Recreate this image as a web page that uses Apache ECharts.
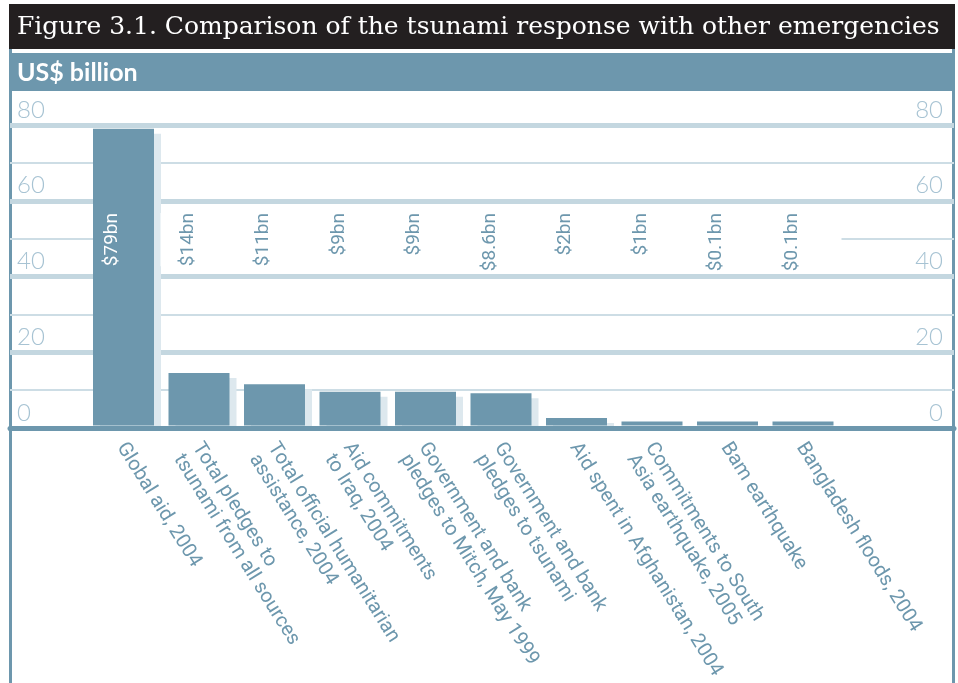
<!DOCTYPE html>
<html>
<head>
<meta charset="utf-8">
<title>Figure 3.1</title>
<script src="https://cdn.jsdelivr.net/npm/echarts@6/dist/echarts.min.js"></script>
<style>
html, body { margin: 0; padding: 0; background: #fff; }
#chart { width: 958px; height: 683px; }
</style>
</head>
<body>
<div id="chart"></div>
<script>
// data
var categories = [
  'Global aid, 2004',
  'Total pledges to\ntsunami from all sources',
  'Total official humanitarian\nassistance, 2004',
  'Aid commitments\nto Iraq, 2004',
  'Government and bank\npledges to Mitch, May 1999',
  'Government and bank\npledges to tsunami',
  'Aid spent in Afghanistan, 2004',
  'Commitments to South\nAsia earthquake, 2005',
  'Bam earthquake',
  'Bangladesh floods, 2004'
];
var values = [79, 14, 11, 9, 9, 8.6, 2, 1, 0.1, 0.1];
var yMin = 0, yMax = 80, yStep = 20;

var blue = '#6d97ad';
var narrow = "Roboto, 'Liberation Sans', sans-serif";

var chart = echarts.init(document.getElementById('chart'));
var option = {
  animation: false,
  backgroundColor: '#fff',
  title: [
    {
      text: 'Figure 3.1. Comparison of the tsunami response with other emergencies',
      left: 17, top: 15, padding: 0,
      textStyle: { fontFamily: 'DejaVu Serif', fontSize: 25, fontWeight: 'normal', color: '#fff' }
    },
    {
      text: 'US$ billion',
      left: 17, top: 60, padding: 0,
      textStyle: { fontFamily: 'Lato', fontSize: 25, fontWeight: 'bold', color: '#fff' }
    }
  ],
  graphic: [
    { type: 'rect', shape: { x: 9, y: 4, width: 946, height: 45 }, style: { fill: '#231f20' } },
    { type: 'rect', shape: { x: 9, y: 53, width: 945, height: 38 }, style: { fill: blue } },
    { type: 'rect', shape: { x: 9, y: 49, width: 3, height: 634 }, style: { fill: blue } },
    { type: 'rect', shape: { x: 952, y: 49, width: 3, height: 634 }, style: { fill: blue } }
  ],
  grid: [
    { left: 10, right: 4, top: 125, bottom: 255, outerBoundsMode: 'none' },
    { left: 85.75, right: 117.25, top: 125, bottom: 257.5, outerBoundsMode: 'none' }
  ],
  xAxis: [
    {
      gridIndex: 0, type: 'value', min: 0, max: 1, z: 5,
      axisLine: { show: true, lineStyle: { color: blue, width: 5 } },
      axisTick: { show: false }, axisLabel: { show: false }, splitLine: { show: false }
    },
    {
      gridIndex: 1, type: 'category', data: categories, position: 'bottom',
      axisLine: { show: false }, axisTick: { show: false },
      axisLabel: {
        interval: 0, rotate: -58, margin: 2, align: 'left', verticalAlign: 'top',
        padding: [0, 0, 0, 13],
        color: blue, fontFamily: narrow, fontSize: 20, lineHeight: 22
      }
    },
    {
      // value labels, masking the 50 gridline behind them
      gridIndex: 1, type: 'category', data: categories, position: 'top', z: 4,
      axisLine: { show: false }, axisTick: { show: false },
      axisLabel: {
        inside: true, interval: 0, rotate: -90, margin: 88,
        align: 'right', verticalAlign: 'middle',
        formatter: function (v, i) {
          return '{' + (i === 0 ? 'w' : 'b') + '|$' + values[i] + 'bn}';
        },
        rich: {
          w: { color: '#fff', fontFamily: narrow, fontSize: 19, lineHeight: 21, padding: [18, 0, 40, 0] },
          b: { color: blue, fontFamily: narrow, fontSize: 19, lineHeight: 21, padding: [18, 0, 40, 0], backgroundColor: '#fff' }
        }
      }
    }
  ],
  yAxis: [
    {
      gridIndex: 0, type: 'value', min: yMin, max: yMax, interval: yStep / 2, position: 'right', z: 0,
      axisLine: { show: false }, axisTick: { show: false },
      axisLabel: {
        inside: true, margin: 11, verticalAlign: 'bottom', padding: [0, 0, 3, 0],
        color: '#a7c3d3', fontFamily: 'Lato', fontWeight: 300, fontSize: 24,
        formatter: function (v) { return v % yStep === 0 ? v : ''; }
      },
      splitLine: { lineStyle: { color: '#cddde5', width: 2 } }
    },
    {
      gridIndex: 0, type: 'value', min: yMin, max: yMax, interval: yStep, position: 'left', z: 1,
      axisLine: { show: false }, axisTick: { show: false },
      axisLabel: {
        inside: true, margin: 7, verticalAlign: 'bottom', padding: [0, 0, 3, 0],
        color: '#a7c3d3', fontFamily: 'Lato', fontWeight: 300, fontSize: 24
      },
      splitLine: { lineStyle: { color: '#c4d7e0', width: 5 } }
    },
    { gridIndex: 1, type: 'value', min: yMin, max: yMax, show: false }
  ],
  series: [
    {
      type: 'bar', xAxisIndex: 1, yAxisIndex: 2, data: values,
      barWidth: 61, barMinHeight: 4,
      itemStyle: {
        color: blue, shadowColor: '#dde8ee', shadowBlur: 0,
        shadowOffsetX: 7, shadowOffsetY: 5
      }
    }
  ]
};
chart.setOption(option);
</script>
</body>
</html>
